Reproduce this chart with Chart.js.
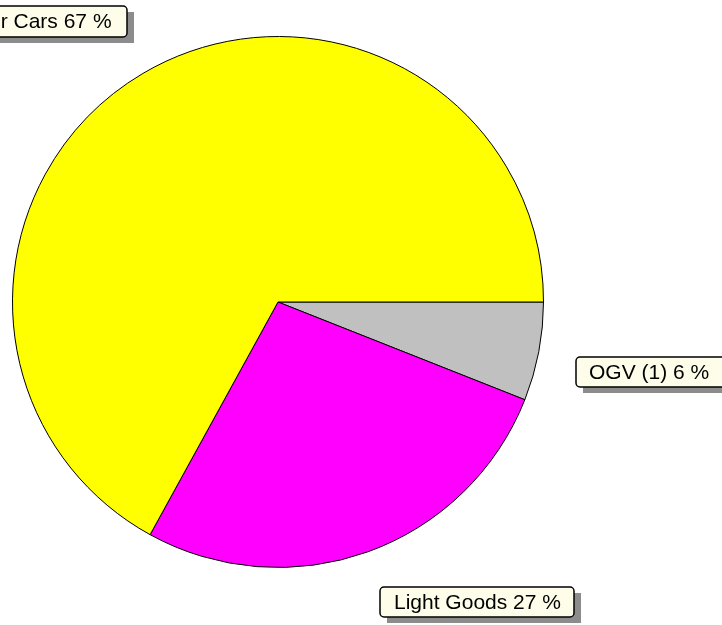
<!DOCTYPE html>
<html>
<head>
<meta charset="utf-8">
<script src="https://cdn.jsdelivr.net/npm/chart.js@4/dist/chart.umd.min.js"></script>
<style>
html,body{margin:0;padding:0;background:#ffffff;}
#wrap{width:722px;height:625px;position:relative;}
</style>
</head>
<body>
<div id="wrap"><canvas id="c" width="722" height="625"></canvas></div>
<script>
const categories = ["OGV (1)", "Light Goods", "Motor Cars"];
const percentages = [6, 27, 67];
const sliceColors = ["#c0c0c0", "#ff00ff", "#ffff00"];
const labelTexts = categories.map((c, i) => c + " " + percentages[i] + " %");

// label box placement (layout only)
const labelBoxes = [
  {x: 576, y: 357, w: 150, h: 30, tx: 589},
  {x: 380, y: 587, w: 194, h: 30, tx: 394},
  {x: -60, y: 6, w: 187, h: 31, tx: -46}
];

const calloutPlugin = {
  id: 'callouts',
  afterDraw(chart) {
    const ctx = chart.ctx;
    ctx.save();
    ctx.font = '21px "Liberation Sans", Arial, sans-serif';
    ctx.textBaseline = 'middle';
    labelTexts.forEach((t, i) => {
      const b = labelBoxes[i];
      // shadow
      ctx.fillStyle = '#8c8c8c';
      ctx.fillRect(b.x + 7, b.y + 6, b.w, b.h);
      // box
      ctx.beginPath();
      ctx.roundRect(b.x, b.y, b.w, b.h, 4);
      ctx.fillStyle = '#fdfdea';
      ctx.fill();
      ctx.lineWidth = 1.5;
      ctx.strokeStyle = '#000000';
      ctx.stroke();
      ctx.fillStyle = '#000000';
      ctx.textAlign = 'left';
      ctx.fillText(t, b.tx, b.y + b.h / 2 + 1);
    });
    ctx.restore();
  }
};

new Chart(document.getElementById('c'), {
  type: 'pie',
  data: {
    labels: categories,
    datasets: [{
      data: percentages,
      backgroundColor: sliceColors,
      borderColor: '#000000',
      borderWidth: 1
    }]
  },
  options: {
    responsive: false,
    animation: false,
    rotation: 90,
    layout: {padding: {left: 12, top: 36, right: 178, bottom: 57}},
    plugins: {
      legend: {display: false},
      tooltip: {enabled: false}
    }
  },
  plugins: [calloutPlugin]
});
</script>
</body>
</html>
